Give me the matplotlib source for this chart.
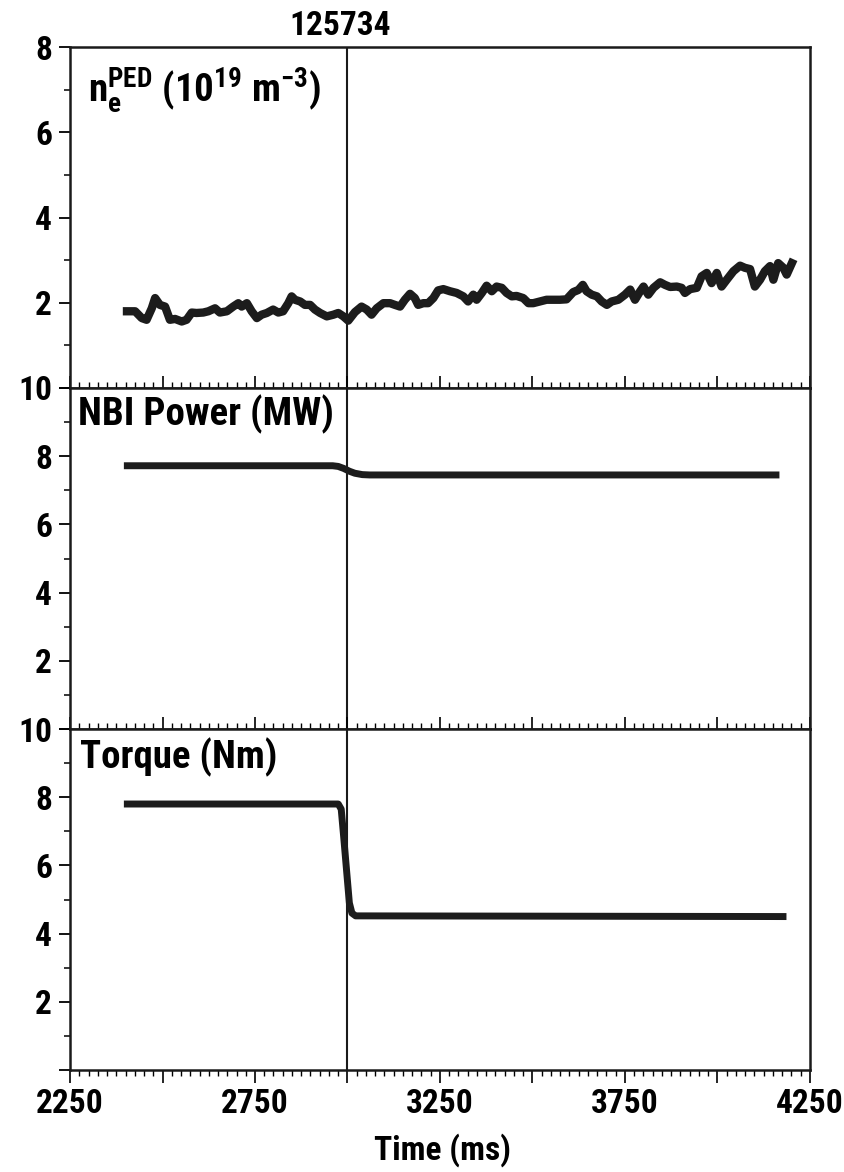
import matplotlib
matplotlib.use("Agg")
import matplotlib.pyplot as plt
from matplotlib import font_manager
from matplotlib.ticker import MultipleLocator

names = {f.name for f in font_manager.fontManager.ttflist}
FONT = "Roboto Condensed" if "Roboto Condensed" in names else "Liberation Sans"
plt.rcParams["font.family"] = [FONT, "DejaVu Sans"]
plt.rcParams["font.weight"] = "bold"
plt.rcParams["mathtext.fontset"] = "custom"
plt.rcParams["mathtext.rm"] = FONT + ":bold"
plt.rcParams["mathtext.bf"] = FONT + ":bold"
plt.rcParams["mathtext.it"] = FONT + ":bold"
plt.rcParams["mathtext.default"] = "regular"

shot = "125734"
t_mark = 3000

# Pedestal density (10^19 m^-3)
ne_t = [2404, 2426, 2444, 2457, 2471, 2480, 2493, 2507, 2520, 2534, 2552, 2565, 2579, 2592,
        2610, 2624, 2642, 2655, 2674, 2691, 2705, 2714, 2728, 2741, 2755, 2768, 2782, 2799,
        2813, 2826, 2840, 2849, 2858, 2872, 2885, 2899, 2912, 2926, 2944, 2962, 2975, 2989,
        3002, 3020, 3038, 3052, 3065, 3079, 3097, 3115, 3128, 3142, 3155, 3169, 3182, 3191,
        3205, 3218, 3232, 3245, 3259, 3277, 3295, 3313, 3326, 3340, 3349, 3363, 3376, 3390,
        3403, 3417, 3430, 3444, 3457, 3475, 3489, 3502, 3520, 3538, 3556, 3574, 3592, 3610,
        3624, 3636, 3646, 3660, 3674, 3687, 3701, 3714, 3732, 3750, 3764, 3777, 3791, 3800,
        3813, 3827, 3845, 3858, 3872, 3890, 3903, 3912, 3926, 3944, 3957, 3971, 3984, 3998,
        4011, 4025, 4043, 4061, 4074, 4088, 4101, 4115, 4128, 4142, 4151, 4164, 4178, 4187, 4201]
ne_v = [1.80, 1.80, 1.64, 1.60, 1.87, 2.11, 1.95, 1.91, 1.60, 1.62, 1.56, 1.60, 1.77, 1.76,
        1.77, 1.80, 1.87, 1.77, 1.80, 1.91, 1.99, 1.91, 1.99, 1.80, 1.64, 1.72, 1.76, 1.84,
        1.77, 1.80, 1.99, 2.15, 2.07, 2.03, 1.95, 1.95, 1.84, 1.76, 1.68, 1.72, 1.76, 1.68,
        1.58, 1.78, 1.91, 1.84, 1.72, 1.87, 1.99, 1.99, 1.95, 1.91, 2.07, 2.21, 2.11, 1.95,
        1.99, 1.99, 2.11, 2.29, 2.32, 2.27, 2.23, 2.15, 2.03, 2.19, 2.07, 2.23, 2.40, 2.27,
        2.38, 2.35, 2.23, 2.15, 2.16, 2.11, 1.99, 1.99, 2.03, 2.07, 2.07, 2.07, 2.08, 2.25,
        2.30, 2.42, 2.27, 2.19, 2.15, 2.03, 1.95, 2.03, 2.07, 2.19, 2.31, 2.07, 2.27, 2.38,
        2.19, 2.35, 2.48, 2.42, 2.37, 2.38, 2.35, 2.23, 2.32, 2.35, 2.62, 2.70, 2.46, 2.70,
        2.38, 2.54, 2.74, 2.87, 2.82, 2.79, 2.38, 2.54, 2.74, 2.86, 2.54, 2.93, 2.82, 2.66, 2.93]

# NBI power (MW)
nbi_t = [2405, 2960, 2975, 2990, 3005, 3020, 3040, 3060, 4158]
nbi_v = [7.72, 7.72, 7.70, 7.64, 7.56, 7.50, 7.46, 7.45, 7.45]

# Torque (Nm)
tq_t = [2405, 2975, 2983, 2990, 3005, 3012, 3022, 4177]
tq_v = [7.80, 7.80, 7.65, 6.80, 4.90, 4.60, 4.52, 4.50]

x_major = [2250, 2500, 2750, 3000, 3250, 3500, 3750, 4000, 4250]
x_ticklabels = ["2250", "", "2750", "", "3250", "", "3750", "", "4250"]

W, H = 845, 1172
fig = plt.figure(figsize=(W / 100, H / 100), dpi=100)
L, R = 70 / W, 810 / W
panel_px = [(47, 388), (388, 729), (729, 1070)]
axes = [fig.add_axes([L, 1 - bot / H, R - L, (bot - top) / H]) for top, bot in panel_px]

LC = "#1c1c1c"
FS = 24
LFS = 28


def style(ax, ymax, bottom):
    ax.set_xlim(2250, 4250)
    ax.set_ylim(0, ymax)
    for s in ax.spines.values():
        s.set_linewidth(1.8)
        s.set_color("#1a1a1a")
    ax.set_xticks(x_major)
    ax.xaxis.set_minor_locator(MultipleLocator(25))
    yt = list(range(0, ymax + 1, 2))
    ax.set_yticks(yt)
    ax.set_yticklabels([str(v) if v > 0 else "" for v in yt], fontsize=FS, fontweight="bold")
    ax.yaxis.set_minor_locator(MultipleLocator(1))
    ax.tick_params(axis="y", which="major", direction="out", length=8, width=1.3, pad=5)
    ax.tick_params(axis="y", which="minor", direction="out", length=4, width=1.1)
    if bottom:
        ax.set_xticklabels(x_ticklabels, fontsize=FS, fontweight="bold")
        ax.tick_params(axis="x", which="major", direction="out", length=9, width=1.2, pad=4)
        ax.tick_params(axis="x", which="minor", direction="out", length=4, width=1.0)
    else:
        ax.tick_params(axis="x", which="major", direction="in", length=9, width=1.2,
                       labelbottom=False)
        ax.tick_params(axis="x", which="minor", direction="in", length=4, width=1.0)
    ax.axvline(t_mark, color="#1a1a1a", lw=1.5, zorder=1)


style(axes[0], 8, False)
style(axes[1], 10, False)
style(axes[2], 10, True)

axes[0].plot(ne_t, ne_v, color=LC, lw=6.0, solid_joinstyle="round", zorder=3)
axes[1].plot(nbi_t, nbi_v, color=LC, lw=5.0, solid_joinstyle="round", zorder=3)
axes[2].plot(tq_t, tq_v, color=LC, lw=5.0, solid_joinstyle="round", zorder=3)

axes[0].text(18 / 740, 1 - 55 / 341,
             r"n$_\mathregular{e}^\mathregular{PED}$ (10$^\mathregular{19}$ m$^\mathregular{-3}$)",
             transform=axes[0].transAxes, fontsize=LFS, fontweight="bold", va="baseline", ha="left")
axes[1].text(8 / 740, 1 - 37 / 341, "NBI Power (MW)", transform=axes[1].transAxes,
             fontsize=LFS, fontweight="bold", va="baseline", ha="left")
axes[2].text(10 / 740, 1 - 39 / 341, "Torque (Nm)", transform=axes[2].transAxes,
             fontsize=LFS, fontweight="bold", va="baseline", ha="left")

fig.text(340 / W, 1 - 35 / H, shot, fontsize=FS, fontweight="bold", ha="center", va="baseline")
fig.text(443 / W, 1 - 1160 / H, "Time (ms)", fontsize=24, fontweight="bold",
         ha="center", va="baseline")

fig.savefig("out.png", dpi=100)
